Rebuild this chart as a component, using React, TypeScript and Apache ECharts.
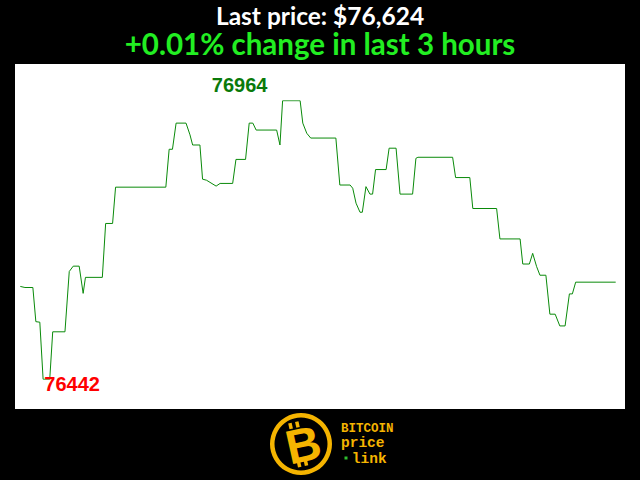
import React, { useEffect, useRef } from "react";
import * as echarts from "echarts";

// minutes since start of the 3-hour window
const times = [
  0, 1.4, 3.8, 4.7, 5.9, 6.9, 8.9, 9.8, 13.5, 14.8, 16.0, 17.8, 19.0, 19.7, 24.8, 25.8,
  27.9, 28.8, 44.0, 45.0, 46.0, 47.1, 50.1, 51.3, 52.1, 54.3, 55.1, 56.3, 59.2, 60.4,
  64.2, 65.2, 68.1, 69.2, 70.3, 71.3, 77.5, 78.5, 79.3, 84.6, 85.4, 86.6, 87.8, 95.4,
  96.6, 99.7, 100.5, 101.5, 102.7, 103.4, 104.5, 105.7, 106.5, 107.4, 110.6, 111.5,
  113.6, 114.8, 118.6, 119.6, 120.2, 130.7, 131.6, 135.9, 136.8, 144.0, 145.0, 151.1,
  151.9, 153.9, 154.9, 156.1, 157.1, 158.9, 160.1, 161.7, 163.1, 164.7, 166.0, 166.9,
  167.9, 180,
];
// BTC price (USD)
const prices = [
  76616, 76614, 76614, 76550, 76549, 76442, 76442, 76531, 76531, 76644, 76654, 76654,
  76603, 76633, 76633, 76734, 76734, 76802, 76802, 76873, 76873, 76922, 76922, 76900,
  76881, 76881, 76817, 76815, 76804, 76809, 76809, 76854, 76854, 76922, 76922, 76909,
  76909, 76881, 76964, 76964, 76922, 76903, 76894, 76894, 76806, 76806, 76800, 76772,
  76755, 76755, 76803, 76789, 76789, 76835, 76835, 76875, 76875, 76789, 76789, 76856,
  76858, 76858, 76820, 76820, 76762, 76762, 76705, 76705, 76658, 76658, 76678, 76653,
  76637, 76637, 76564, 76564, 76542, 76542, 76602, 76602, 76624, 76624,
];
const headline = "Last price: $76,624";
const changeText = "+0.01% change in last 3 hours";
const logoWords = ["BITCOIN", "price", "link"];

export default function App() {
  const ref = useRef<HTMLDivElement>(null);
  useEffect(() => {
    document.body.style.margin = "0";
    document.body.style.background = "#000";
    const chart = echarts.init(ref.current!, null, { renderer: "svg" });
    const data = times.map((t, i) => [t, prices[i]]);
    const gold = "#f5b400";
    chart.setOption({
      animation: false,
      backgroundColor: "#000",
      grid: { left: 20.3, right: 24.3, top: 100.7, bottom: 100.7 },
      xAxis: { type: "value", min: 0, max: 180, show: false },
      yAxis: {
        type: "value",
        min: Math.min(...prices),
        max: Math.max(...prices),
        show: false,
      },
      graphic: [
        {
          type: "rect",
          z: 0,
          shape: { x: 15, y: 64, width: 610, height: 345 },
          style: { fill: "#fff" },
        },
        {
          type: "text",
          x: 320,
          y: 15.5,
          style: {
            text: headline,
            fill: "#fff",
            font: "bold 24.5px Lato, sans-serif",
            lineHeight: 24,
            align: "center",
            verticalAlign: "middle",
          },
        },
        {
          type: "text",
          x: 320,
          y: 43.5,
          style: {
            text: changeText,
            fill: "#22ee22",
            font: "bold 29.5px Lato, sans-serif",
            lineHeight: 28,
            align: "center",
            verticalAlign: "middle",
          },
        },
        {
          type: "ring",
          shape: { cx: 301, cy: 444, r: 31, r0: 26.5 },
          style: { fill: gold },
        },
        {
          type: "group",
          x: 302,
          y: 444,
          rotation: 0.22,
          children: [
            { type: "rect", shape: { x: -9, y: -23, width: 3.5, height: 6 }, style: { fill: gold } },
            { type: "rect", shape: { x: -2, y: -23, width: 3.5, height: 6 }, style: { fill: gold } },
            { type: "rect", shape: { x: -9, y: 16, width: 3.5, height: 6 }, style: { fill: gold } },
            { type: "rect", shape: { x: -2, y: 16, width: 3.5, height: 6 }, style: { fill: gold } },
            {
              type: "text",
              x: 1,
              y: 1,
              style: {
                text: "B",
                fill: gold,
                font: "bold 48px 'Liberation Sans', sans-serif",
                align: "center",
                verticalAlign: "middle",
              },
            },
          ],
        },
        {
          type: "text",
          x: 341,
          y: 429,
          style: {
            text: logoWords[0],
            fill: gold,
            font: "bold 12.5px 'Liberation Mono', monospace",
            lineHeight: 12,
            align: "left",
            verticalAlign: "middle",
          },
        },
        {
          type: "text",
          x: 341,
          y: 443,
          style: {
            text: logoWords[1],
            fill: gold,
            font: "bold 14.5px 'Liberation Mono', monospace",
            lineHeight: 14,
            align: "left",
            verticalAlign: "middle",
          },
        },
        {
          type: "rect",
          shape: { x: 344.5, y: 456.5, width: 3, height: 3 },
          style: { fill: "#2fbf2f" },
        },
        {
          type: "text",
          x: 351.8,
          y: 458.5,
          style: {
            text: logoWords[2],
            fill: gold,
            font: "bold 14.5px 'Liberation Mono', monospace",
            lineHeight: 14,
            align: "left",
            verticalAlign: "middle",
          },
        },
      ],
      series: [
        {
          type: "line",
          data,
          symbol: "none",
          lineStyle: { color: "#0a8a0a", width: 1 },
          markPoint: {
            symbol: "circle",
            symbolSize: 1,
            itemStyle: { color: "rgba(0,0,0,0)" },
            data: [
              {
                type: "max",
                label: {
                  show: true,
                  position: "inside",
                  offset: [-43, -16],
                  formatter: "{c}",
                  color: "#0a7a0a",
                  fontWeight: "bold",
                  fontSize: 20,
                  fontFamily: "'Liberation Sans', Arial, sans-serif",
                },
              },
              {
                type: "min",
                label: {
                  show: true,
                  position: "inside",
                  offset: [29, 4.5],
                  formatter: "{c}",
                  color: "#ff0000",
                  fontWeight: "bold",
                  fontSize: 20,
                  fontFamily: "'Liberation Sans', Arial, sans-serif",
                },
              },
            ],
          },
        },
      ],
    });
    return () => chart.dispose();
  }, []);
  return <div ref={ref} style={{ width: 640, height: 480 }} />;
}
